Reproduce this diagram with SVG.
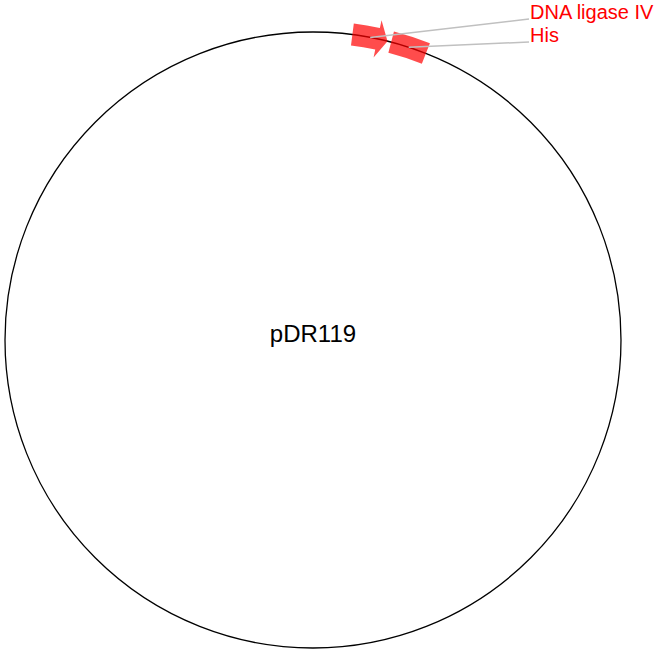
<svg xmlns="http://www.w3.org/2000/svg" width="659" height="655" viewBox="0 0 659 655">
<style>
.bb{fill:none;stroke:#000;stroke-width:1.3}
.feat{fill:#ff0000;fill-opacity:0.7;stroke:none}
.lead{stroke:#c0c0c0;stroke-width:1.5;fill:none}
.lbl{font-family:"Liberation Sans",Arial,sans-serif;font-size:20px;fill:#ff0000}
.title{font-family:"Liberation Sans",Arial,sans-serif;font-size:24px;fill:#000}
</style>
<rect width="659" height="655" fill="#fff"/>
<g id="backbone">
<circle class="bb" cx="313" cy="340" r="308"/>
<text class="title" x="313" y="342" text-anchor="middle">pDR119</text>
</g>
<g id="feature-dna-ligase-iv">
<path class="feat" d="M353.81,23.62 A319,319 0 0 1 379.87,28.09 L381.55,20.27 L387.51,41.15 L373.58,57.42 L375.26,49.60 A297,297 0 0 0 350.99,45.44 Z"/>
<text class="lbl" x="530" y="19">DNA ligase IV</text>
</g>
<g id="feature-his">
<path class="feat" d="M393.95,31.44 A319,319 0 0 1 429.91,43.20 L421.85,63.67 A297,297 0 0 0 388.37,52.72 Z"/>
<text class="lbl" x="530" y="42">His</text>
</g>
<g id="connectors">
<line class="lead" x1="370.2" y1="37.4" x2="529" y2="19"/>
<line class="lead" x1="408.7" y1="47.2" x2="529" y2="42"/>
</g>
</svg>
